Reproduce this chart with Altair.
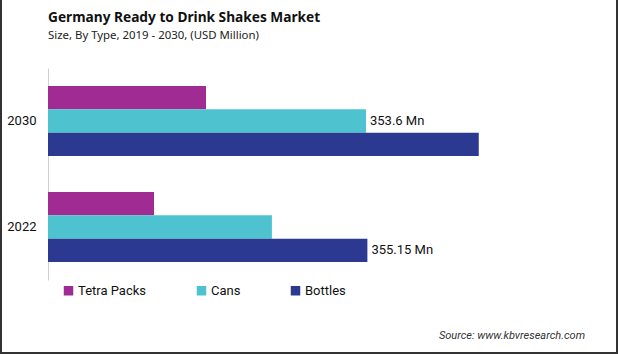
import altair as alt
import pandas as pd

years = ["2030", "2022"]
types = ["Tetra Packs", "Cans", "Bottles"]
colors = ["#A02B93", "#4EC3CF", "#2B3990"]
tetra = [175.7, 117.9]
cans = [353.6, 249.0]
bottles = [479.0, 355.15]
labels_cans = ["353.6 Mn", ""]
labels_bottles = ["", "355.15 Mn"]
title_text = "Germany Ready to Drink Shakes Market"
subtitle_text = "Size, By Type, 2019 - 2030, (USD Million)"
source_text = "Source: www.kbvresearch.com"

rows = []
for i, y in enumerate(years):
    rows.append({"year": y, "type": "Tetra Packs", "value": tetra[i], "label": ""})
    rows.append({"year": y, "type": "Cans", "value": cans[i], "label": labels_cans[i]})
    rows.append({"year": y, "type": "Bottles", "value": bottles[i], "label": labels_bottles[i]})
df = pd.DataFrame(rows)

FONT = "Roboto"
TFONT = "Noto Sans"

base = alt.Chart(df)
ysc = alt.Y("year:N", sort=years, title=None,
            scale=alt.Scale(paddingInner=0.34, paddingOuter=0.17),
            axis=alt.Axis(ticks=False, domainColor="#d0d0d0", labelFontSize=13,
                          labelColor="#111", labelPadding=12, labelFont=FONT))
xsc = alt.X("value:Q", title=None, scale=alt.Scale(domain=[0, 611.6], nice=False),
            axis=None)
yoff = alt.YOffset("type:N", sort=types, scale=alt.Scale(paddingInner=0, paddingOuter=0))

bars = base.mark_bar().encode(
    y=ysc, x=xsc, yOffset=yoff,
    color=alt.Color("type:N", sort=types,
                    scale=alt.Scale(domain=types, range=colors),
                    legend=alt.Legend(title=None, orient="none", legendX=14, legendY=216,
                                      direction="horizontal", symbolType="square",
                                      symbolSize=90, labelFontSize=13, labelFont=FONT,
                                      labelColor="#111", columnPadding=48,
                                      labelOffset=3, symbolStrokeWidth=0)),
)
text = base.transform_filter(alt.datum.label != "").mark_text(
    align="left", dx=4, fontSize=13, font=FONT, color="#111"
).encode(y=ysc, x=xsc, yOffset=yoff, text="label:N")

one = pd.DataFrame({"a": [0]})
title = alt.Chart(one).mark_text(
    align="left", baseline="alphabetic", fontSize=13.7, font=TFONT, fontWeight="bold", color="#111"
).encode(x=alt.value(0), y=alt.value(-46), text=alt.value(title_text))
subtitle = alt.Chart(one).mark_text(
    align="left", baseline="alphabetic", fontSize=11.4, font=TFONT, color="#222"
).encode(x=alt.value(0), y=alt.value(-29), text=alt.value(subtitle_text))

src = alt.Chart(one).mark_text(
    align="right", baseline="middle", fontSize=11, font=FONT, fontStyle="italic", color="#333"
).encode(x=alt.value(537), y=alt.value(268), text=alt.value(source_text))

border = alt.Chart(one).mark_rule(color="#333", strokeWidth=2)
bl = border.encode(x=alt.value(-47), y=alt.value(-68), y2=alt.value(286))
br = border.encode(x=alt.value(569), y=alt.value(-68), y2=alt.value(286))
bb = border.encode(x=alt.value(-48), x2=alt.value(570), y=alt.value(285))

chart = alt.layer(bars, text, title, subtitle, src, bl, br, bb).properties(
    width=550, height=212,
    autosize=alt.AutoSizeParams(type="none"),
    padding={"left": 48, "top": 68, "right": 21, "bottom": 74},
).configure_view(stroke=None)

chart.save("out.html", embed_options={"renderer": "svg", "actions": False})
